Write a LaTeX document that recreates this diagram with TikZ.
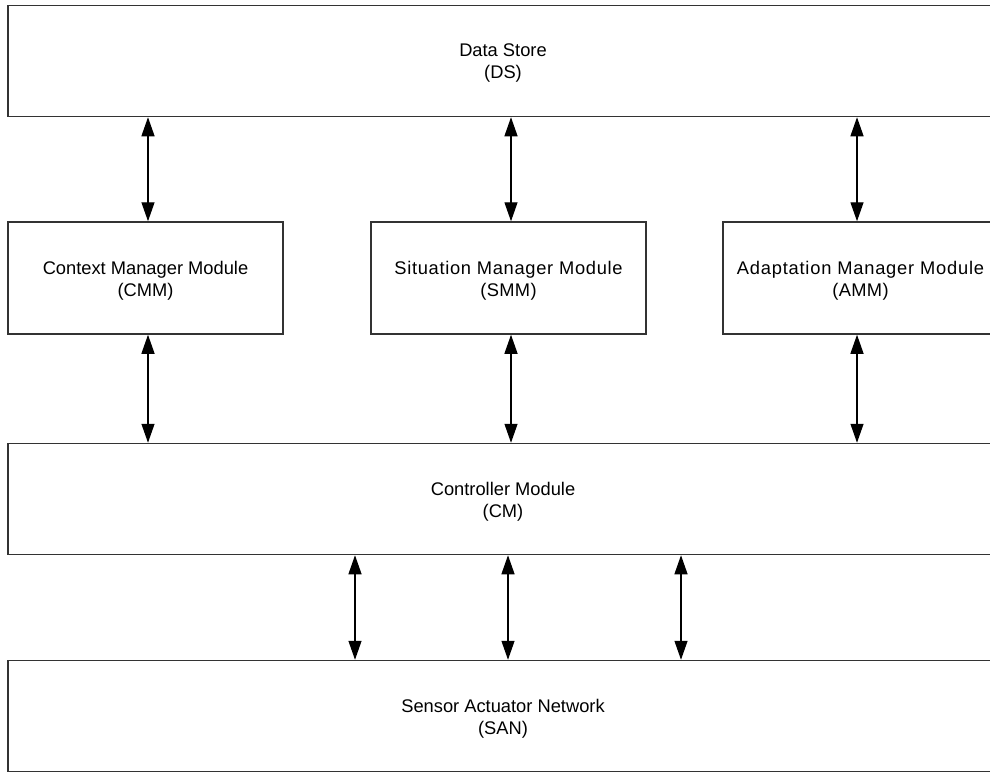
\documentclass[tikz,border=0pt]{standalone}
\usepackage{fontspec}
\setmainfont{Liberation Sans}
\usetikzlibrary{arrows.meta}
\newcommand{\spaced}[2]{{\addfontfeature{LetterSpace=#1}#2}}
\begin{document}
\begin{tikzpicture}[x=1pt,y=-1pt,
  box/.style={draw=black!80, line width=1.5pt, fill=white, inner sep=0pt},
  caption/.style={align=center, inner sep=0pt, yshift=-2.5pt,
    font=\fontsize{18.3}{22}\selectfont},
  wide/.style={box, minimum width=990pt, minimum height=111pt},
  module/.style={box, minimum width=275pt, minimum height=112pt},
  link/.style={line width=1.3pt, {Triangle[length=19pt,width=13pt]}-{Triangle[length=19pt,width=13pt]}}]
  \clip (0,0) rectangle (990,774);
  \fill[white] (0,0) rectangle (990,774);

  % layers
  \node[wide, label={[caption]center:Data Store\\(DS)}] (ds) at (503,61) {};
  \node[module, label={[caption]center:Context Manager Module\\(CMM)}] (cmm) at (145.5,278) {};
  \node[module, label={[caption]center:\spaced{3.8}{Situation Manager Module}\\\spaced{2}{(SMM)}}] (smm) at (508.5,278) {};
  \node[module, label={[caption]center:\spaced{4.3}{Adaptation Manager Module}\\\spaced{2}{(AMM)}}] (amm) at (860.5,278) {};
  \node[wide, label={[caption]center:Controller Module\\(CM)}] (cm) at (503,499) {};
  \node[wide, label={[caption]center:Sensor Actuator Network\\(SAN)}] (san) at (503,716) {};

  % data store links
  \draw[link] (ds.south -| 148,0) -- (cmm.north -| 148,0);
  \draw[link] (ds.south -| 511,0) -- (smm.north -| 511,0);
  \draw[link] (ds.south -| 857,0) -- (amm.north -| 857,0);

  % controller links
  \draw[link] (cmm.south -| 148,0) -- (cm.north -| 148,0);
  \draw[link] (smm.south -| 511,0) -- (cm.north -| 511,0);
  \draw[link] (amm.south -| 857,0) -- (cm.north -| 857,0);

  % sensor network links
  \draw[link] (cm.south -| 355,0) -- (san.north -| 355,0);
  \draw[link] (cm.south -| 508,0) -- (san.north -| 508,0);
  \draw[link] (cm.south -| 681,0) -- (san.north -| 681,0);
\end{tikzpicture}
\end{document}
